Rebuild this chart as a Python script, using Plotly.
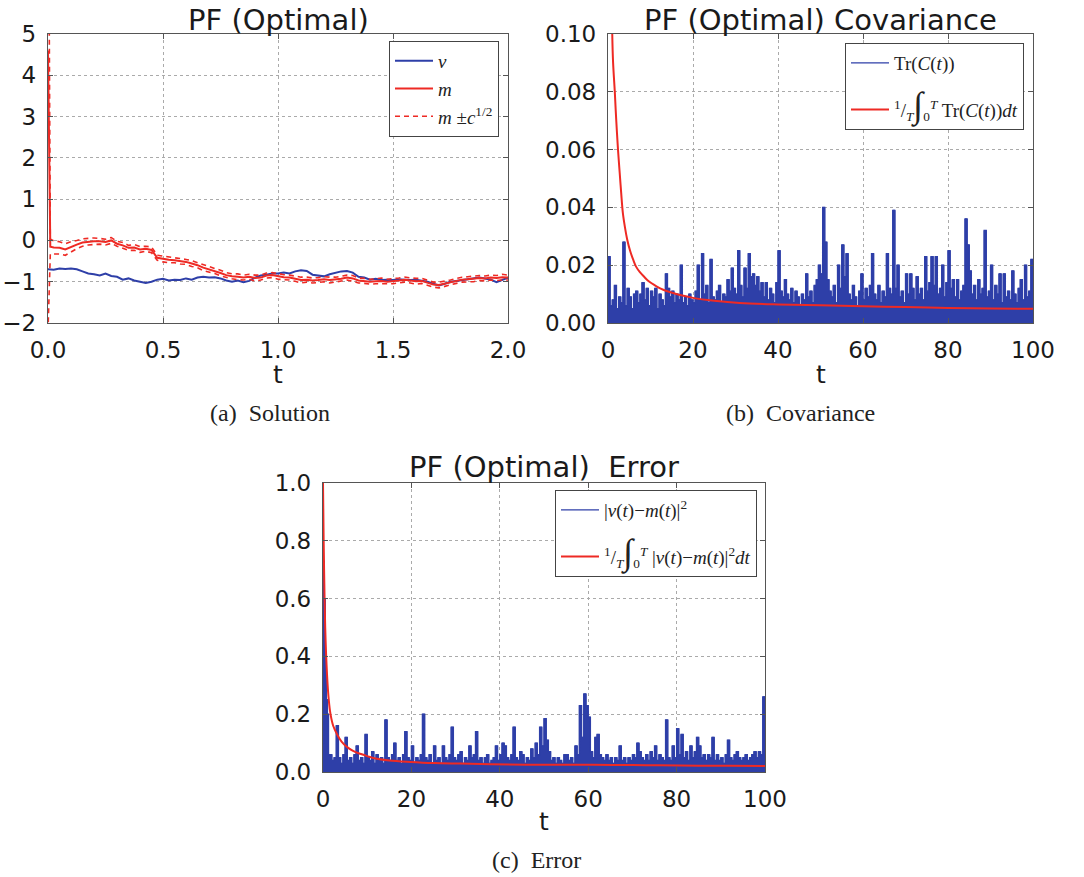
import numpy as np
import plotly.graph_objects as go

W, H = 1084, 877
BLUE = "#2E3FA8"
RED = "#EE2A24"

# ---------------- (a) Solution ----------------
sol_dt = 0.025
v_vals = [
    -0.70, -0.71, -0.68, -0.69, -0.68, -0.70, -0.75, -0.80, -0.82, -0.85,
    -0.80, -0.86, -0.88, -0.95, -0.92, -0.97, -1.00, -1.03, -1.00, -0.95,
    -0.93, -0.97, -0.95, -0.96, -0.92, -0.95, -0.90, -0.88, -0.90, -0.89,
    -0.92, -0.97, -1.00, -0.97, -1.01, -0.98, -0.90, -0.85, -0.83, -0.80,
    -0.80, -0.78, -0.80, -0.75, -0.72, -0.74, -0.83, -0.85, -0.87, -0.82,
    -0.79, -0.75, -0.74, -0.78, -0.88, -0.90, -0.95, -0.93, -0.96, -0.95,
    -0.96, -0.94, -0.95, -0.96, -0.95, -0.98, -1.00, -1.05, -1.09, -1.05,
    -1.00, -0.98, -0.96, -0.95, -0.92, -0.90, -0.92, -0.95, -1.01, -0.96,
    -0.90,
]
m_head_t = [0.0, 0.01]
m_head = [4.6, -0.15]
s_head = [6.8, 0.18]
m_vals = [
    -0.17, -0.18, -0.22, -0.15, -0.10, -0.05, -0.03, -0.02, -0.02, -0.04,
    0.00, -0.08, -0.12, -0.18, -0.17, -0.22, -0.20, -0.23, -0.42, -0.45,
    -0.47, -0.48, -0.50, -0.52, -0.56, -0.60, -0.66, -0.70, -0.74, -0.79,
    -0.84, -0.87, -0.88, -0.90, -0.88, -0.91, -0.90, -0.85, -0.84, -0.87,
    -0.89, -0.90, -0.93, -0.96, -0.95, -0.97, -0.96, -0.94, -0.96, -0.95,
    -0.93, -0.90, -0.92, -0.97, -0.98, -1.00, -0.99, -0.98, -1.00, -0.99,
    -0.97, -0.95, -0.97, -0.99, -0.98, -1.03, -1.07, -1.08, -1.05, -1.02,
    -0.98, -0.95, -0.94, -0.93, -0.91, -0.92, -0.90, -0.91, -0.89, -0.90,
]
s_vals = [
    0.16, 0.15, 0.14, 0.12, 0.10, 0.09, 0.08, 0.08, 0.07, 0.07,
    0.07, 0.06, 0.07, 0.06, 0.07, 0.07, 0.06, 0.07, 0.06, 0.07,
    0.07, 0.06, 0.07, 0.06, 0.07, 0.06, 0.07, 0.06, 0.06, 0.07,
    0.06, 0.06, 0.07, 0.06, 0.06, 0.07, 0.06, 0.06, 0.06, 0.07,
    0.06, 0.06, 0.06, 0.07, 0.06, 0.06, 0.06, 0.06, 0.07, 0.06,
    0.06, 0.06, 0.07, 0.06, 0.06, 0.06, 0.06, 0.07, 0.06, 0.06,
    0.06, 0.06, 0.06, 0.07, 0.06, 0.06, 0.06, 0.07, 0.06, 0.06,
    0.06, 0.06, 0.06, 0.07, 0.06, 0.06, 0.06, 0.06, 0.07, 0.06,
]

# ---------------- (b) Covariance ----------------
cov_dt = 0.5
cov_vals = [
    0.023, 0.006, 0.008, 0.013, 0.005, 0.009, 0.007, 0.028, 0.006, 0.012,
    0.009, 0.005, 0.010, 0.011, 0.007, 0.010, 0.014, 0.008, 0.012, 0.006,
    0.011, 0.009, 0.012, 0.005, 0.010, 0.008, 0.006, 0.017, 0.012, 0.009,
    0.011, 0.007, 0.010, 0.008, 0.020, 0.007, 0.009, 0.006, 0.010, 0.008,
    0.007, 0.011, 0.020, 0.008, 0.024, 0.010, 0.013, 0.007, 0.022, 0.009,
    0.008, 0.011, 0.013, 0.007, 0.010, 0.009, 0.015, 0.011, 0.019, 0.012,
    0.010, 0.025, 0.013, 0.009, 0.019, 0.012, 0.024, 0.016, 0.017, 0.013,
    0.016, 0.011, 0.014, 0.009, 0.014, 0.008, 0.012, 0.010, 0.007, 0.014,
    0.025, 0.011, 0.009, 0.015, 0.010, 0.008, 0.012, 0.007, 0.011, 0.009,
    0.006, 0.010, 0.008, 0.017, 0.009, 0.011, 0.007, 0.013, 0.015, 0.020,
    0.017, 0.040, 0.028, 0.015, 0.011, 0.009, 0.013, 0.007, 0.020, 0.012,
    0.027, 0.016, 0.024, 0.010, 0.008, 0.013, 0.009, 0.006, 0.011, 0.017,
    0.008, 0.012, 0.009, 0.013, 0.024, 0.010, 0.008, 0.013, 0.007, 0.011,
    0.009, 0.024, 0.012, 0.010, 0.039, 0.012, 0.020, 0.009, 0.011, 0.007,
    0.017, 0.010, 0.017, 0.012, 0.008, 0.016, 0.010, 0.012, 0.008, 0.023,
    0.011, 0.014, 0.023, 0.013, 0.023, 0.010, 0.012, 0.020, 0.009, 0.014,
    0.025, 0.012, 0.015, 0.009, 0.015, 0.008, 0.011, 0.013, 0.036, 0.027,
    0.018, 0.010, 0.013, 0.008, 0.015, 0.010, 0.012, 0.032, 0.009, 0.011,
    0.020, 0.008, 0.013, 0.010, 0.017, 0.007, 0.017, 0.009, 0.011, 0.008,
    0.018, 0.010, 0.007, 0.012, 0.015, 0.008, 0.020, 0.009, 0.011, 0.022,
    0.022,
]
cov_mean_t = [0.6, 1.0, 1.2, 1.6, 1.8, 2.1, 2.4, 2.75, 3.1, 3.5, 4.0, 4.5, 5.2,
              5.9, 6.6, 7.5, 8.5, 9.5, 11.4, 13.0, 15.3, 17.5, 20, 25, 31, 40,
              50, 60, 70, 80, 90, 100]
cov_mean = [0.160, 0.100, 0.090, 0.080, 0.074, 0.066, 0.059, 0.052, 0.045,
            0.038, 0.033, 0.029, 0.025, 0.022, 0.0195, 0.0176, 0.016, 0.0145,
            0.0127, 0.0115, 0.0104, 0.0095, 0.0087, 0.0077, 0.0069, 0.0064,
            0.0061, 0.0058, 0.0055, 0.0052, 0.0050, 0.0049]

# ---------------- (c) Error ----------------
err_head_t = [0.0, 0.15, 0.3, 0.5, 0.75, 1.0, 1.25]
err_head = [0.10, 0.73, 0.60, 0.40, 0.25, 0.20, 0.06]
err_start, err_dt = 1.5, 0.5
err_vals = [
    0.06, 0.04, 0.05, 0.16, 0.05, 0.03, 0.06,
    0.12, 0.04, 0.05, 0.03, 0.06, 0.09, 0.04, 0.05, 0.03, 0.13,
    0.05, 0.04, 0.07, 0.03, 0.06, 0.04, 0.05, 0.03, 0.18, 0.05,
    0.04, 0.06, 0.10, 0.04, 0.05, 0.03, 0.06, 0.14, 0.05, 0.04,
    0.09, 0.03, 0.05, 0.04, 0.06, 0.20, 0.05, 0.04, 0.06, 0.03,
    0.09, 0.04, 0.05, 0.03, 0.09, 0.05, 0.04, 0.06, 0.155, 0.05,
    0.04, 0.06, 0.07, 0.03, 0.05, 0.04, 0.09, 0.05, 0.06, 0.14,
    0.04, 0.05, 0.03, 0.05, 0.06, 0.03, 0.04, 0.05, 0.09, 0.04,
    0.06, 0.10, 0.09, 0.05, 0.04, 0.06, 0.155, 0.05, 0.04, 0.07,
    0.06, 0.03, 0.05, 0.04, 0.08, 0.05, 0.10, 0.06, 0.155, 0.09,
    0.185, 0.11, 0.07, 0.04, 0.05, 0.03, 0.05, 0.04, 0.03, 0.06,
    0.06, 0.04, 0.05, 0.03, 0.09, 0.06, 0.23, 0.12, 0.27, 0.23,
    0.19, 0.07, 0.05, 0.12, 0.13, 0.06, 0.05, 0.04, 0.06, 0.04,
    0.05, 0.03, 0.05, 0.04, 0.09, 0.04, 0.05, 0.03, 0.05, 0.04,
    0.06, 0.05, 0.10, 0.07, 0.05, 0.04, 0.06, 0.04, 0.07, 0.05,
    0.09, 0.04, 0.06, 0.05, 0.04, 0.18, 0.05, 0.04, 0.09, 0.05,
    0.15, 0.06, 0.13, 0.05, 0.07, 0.04, 0.09, 0.05, 0.07, 0.12,
    0.09, 0.05, 0.06, 0.04, 0.06, 0.05, 0.12, 0.04, 0.06, 0.04,
    0.05, 0.03, 0.06, 0.11, 0.05, 0.04, 0.06, 0.07, 0.05, 0.04,
    0.05, 0.06, 0.04, 0.05, 0.06, 0.07, 0.05, 0.07, 0.06, 0.26,
    0.05,
]
err_mean_t = [0, 0.15, 0.3, 0.5, 0.9, 1.3, 1.7, 2.3, 3.2, 4.2, 5.4, 6.8, 8.4,
              10, 12.2, 15, 19.7, 25, 31, 38, 46, 55, 61, 70, 76, 85, 92, 100]
err_mean = [1.0, 0.80, 0.65, 0.50, 0.34, 0.25, 0.20, 0.16, 0.13, 0.105, 0.087,
            0.073, 0.063, 0.055, 0.046, 0.040, 0.035, 0.031, 0.029, 0.027,
            0.025, 0.025, 0.025, 0.024, 0.023, 0.022, 0.022, 0.021]

# ---------------- derived x grids ----------------
v_t = np.arange(len(v_vals)) * sol_dt
m_t = m_head_t + list(sol_dt * (1 + np.arange(len(m_vals))))
m_all = np.array(m_head + m_vals)
s_all = np.array(s_head + s_vals)
cov_t = np.arange(len(cov_vals)) * cov_dt
err_t = err_head_t + list(err_start + err_dt * np.arange(len(err_vals)))
err_all = err_head + err_vals


def px(x):
    return x / W


def py(y):
    return 1 - y / H


fig = go.Figure()

# (a)
fig.add_trace(go.Scatter(x=v_t, y=v_vals, mode="lines", name="<i>v</i>",
                         line=dict(color=BLUE, width=2), legend="legend",
                         legendgroup="v", xaxis="x", yaxis="y"))
fig.add_trace(go.Scatter(x=m_t, y=m_all, mode="lines", name="<i>m</i>",
                         line=dict(color=RED, width=2), legend="legend",
                         legendgroup="m", xaxis="x", yaxis="y"))
fig.add_trace(go.Scatter(x=m_t, y=m_all + s_all, mode="lines",
                         name="<i>m</i> ±<i>c</i><sup>1/2</sup>",
                         line=dict(color=RED, width=1.6, dash="5px,4px"),
                         legend="legend", legendgroup="mc",
                         xaxis="x", yaxis="y"))
fig.add_trace(go.Scatter(x=m_t, y=m_all - s_all, mode="lines",
                         showlegend=False,
                         line=dict(color=RED, width=1.6, dash="5px,4px"),
                         legendgroup="mc", xaxis="x", yaxis="y"))

# (b)
fig.add_trace(go.Scatter(x=cov_t, y=cov_vals, mode="lines", fill="tozeroy",
                         line_shape="hv",
                         fillcolor=BLUE, line=dict(color=BLUE, width=1),
                         showlegend=False, xaxis="x2", yaxis="y2"))
fig.add_trace(go.Scatter(x=cov_t, y=cov_vals, mode="lines", line_shape="hv",
                         name="Tr(<i>C</i>(<i>t</i>))",
                         line=dict(color=BLUE, width=1.3), legend="legend2",
                         legendgroup="c1", xaxis="x2", yaxis="y2"))
fig.add_trace(go.Scatter(x=cov_mean_t, y=cov_mean, mode="lines",
                         line_shape="spline",
                         name=("<sup>1</sup>/<sub><i>T</i></sub>"
                               "<span style='font-size:36px'>∫</span>"
                               "<sub>0</sub><sup><i>T</i></sup>"
                               " Tr(<i>C</i>(<i>t</i>))<i>dt</i>"),
                         line=dict(color=RED, width=2), legend="legend2",
                         legendgroup="c2", xaxis="x2", yaxis="y2"))

# (c)
fig.add_trace(go.Scatter(x=err_t, y=err_all, mode="lines", fill="tozeroy",
                         line_shape="hv",
                         fillcolor=BLUE, line=dict(color=BLUE, width=1),
                         showlegend=False, xaxis="x3", yaxis="y3"))
fig.add_trace(go.Scatter(x=err_t, y=err_all, mode="lines", line_shape="hv",
                         name="|<i>v</i>(<i>t</i>)−<i>m</i>(<i>t</i>)|<sup>2</sup>",
                         line=dict(color=BLUE, width=1.3), legend="legend3",
                         legendgroup="e1", xaxis="x3", yaxis="y3"))
fig.add_trace(go.Scatter(x=err_mean_t, y=err_mean, mode="lines",
                         line_shape="spline",
                         name=("<sup>1</sup>/<sub><i>T</i></sub>"
                               "<span style='font-size:36px'>∫</span>"
                               "<sub>0</sub><sup><i>T</i></sup>"
                               " |<i>v</i>(<i>t</i>)−<i>m</i>(<i>t</i>)|"
                               "<sup>2</sup><i>dt</i>"),
                         line=dict(color=RED, width=2), legend="legend3",
                         legendgroup="e2", xaxis="x3", yaxis="y3"))

TICKFONT = dict(family="DejaVu Sans", size=23, color="#1a1a1a")


def axis(domain, anchor, rng, dtick, fmt):
    return dict(domain=domain, anchor=anchor, range=rng, dtick=dtick,
                tickformat=fmt, showline=True, mirror="ticks",
                linecolor="#555555", linewidth=1.3, ticks="inside",
                ticklen=5, tickcolor="#555555", showgrid=True,
                gridcolor="#aaaaaa", griddash="dot", gridwidth=1,
                zeroline=False, tickfont=TICKFONT, ticklabelstandoff=6,
                automargin=False)


def legend_opts(x, y, size, gap):
    return dict(x=px(x), y=py(y), xanchor="right", yanchor="top",
                bgcolor="white", bordercolor="#444444", borderwidth=1,
                font=dict(family="Liberation Serif", size=size,
                          color="#222222"),
                itemwidth=38, tracegroupgap=gap)


fig.update_layout(
    width=W, height=H, margin=dict(l=0, r=0, t=0, b=0, autoexpand=False),
    paper_bgcolor="white", plot_bgcolor="white",
    xaxis=axis([px(48), px(508)], "y", [0, 2], 0.5, ".1f"),
    yaxis=axis([py(323), py(34)], "x", [-2, 5], 1, "d"),
    xaxis2=axis([px(608), px(1033)], "y2", [0, 100], 20, "d"),
    yaxis2=axis([py(323), py(34)], "x2", [0, 0.1], 0.02, ".2f"),
    xaxis3=axis([px(323), px(765)], "y3", [0, 100], 20, "d"),
    yaxis3=axis([py(772), py(483)], "x3", [0, 1.0], 0.2, ".1f"),
    legend=legend_opts(499, 41, 19, 0),
    legend2=legend_opts(1024, 43, 19, 19),
    legend3=legend_opts(757, 490, 19, 19),
)

TITLEFONT = dict(family="DejaVu Sans", size=29, color="#1a1a1a")
LABELFONT = dict(family="DejaVu Sans", size=25, color="#1a1a1a")
CAPFONT = dict(family="Liberation Serif", size=24, color="#222222")

annots = [
    ("PF (Optimal)", 278, 20, TITLEFONT),
    ("PF (Optimal) Covariance", 820, 20, TITLEFONT),
    ("PF (Optimal)\u00a0 Error", 544, 467, TITLEFONT),
    ("t", 278, 374, LABELFONT),
    ("t", 821, 374, LABELFONT),
    ("t", 544, 821, LABELFONT),
    ("(a)\u00a0 Solution", 270, 413, CAPFONT),
    ("(b)\u00a0 Covariance", 800, 413, CAPFONT),
    ("(c)\u00a0 Error", 536, 860, CAPFONT),
]
for text, x, y, font in annots:
    fig.add_annotation(text=text, x=px(x), y=py(y), xref="paper",
                       yref="paper", showarrow=False, xanchor="center",
                       yanchor="middle", font=font)

fig.write_html(
    "out.html",
    config={"displayModeBar": False},
    post_script="document.body.style.margin='0';"
                "document.body.style.overflow='hidden';",
)
